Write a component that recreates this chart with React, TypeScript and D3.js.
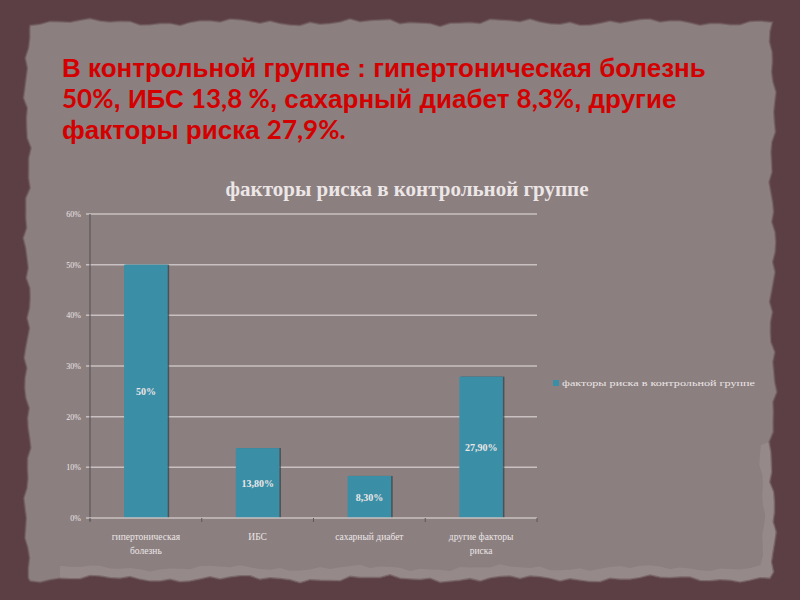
import React, { useEffect, useRef } from 'react';
import * as d3 from 'd3';

// данные диаграммы
const categories = [
  ['гипертоническая', 'болезнь'],
  ['ИБС'],
  ['сахарный диабет'],
  ['другие факторы', 'риска'],
];
const values = [0.5, 0.138, 0.083, 0.279];
const valueLabels = ['50%', '13,80%', '8,30%', '27,90%'];
const yTicks = [0, 0.1, 0.2, 0.3, 0.4, 0.5, 0.6];
const seriesName = 'факторы риска в контрольной группе';
const chartTitle = 'факторы риска в контрольной группе';

// заголовок слайда: [текст, цифровой шрифт]
const headingLines: [string, boolean][][] = [
  [['В контрольной группе : гипертоническая болезнь', false]],
  [['50%', true], [', ИБС ', false], ['13,8 %', true], [', сахарный диабет ', false], ['8,3%', true], [', другие', false]],
  [['факторы риска ', false], ['27,9%.', true]],
];

const W = 800;
const H = 600;
const colors = {
  frame: '#5b3f45',
  paper: '#8b7f80',
  paperLight: '#958989',
  heading: '#d40000',
  bar: '#3a8fa6',
  grid: '#c9c1c1',
  axis: '#5e5858',
  text: '#ece6e6',
};

const App: React.FC = () => {
  const svgRef = useRef<SVGSVGElement>(null);

  useEffect(() => {
    if (!svgRef.current) return;
    const svg = d3.select(svgRef.current);
    svg.selectAll('*').remove();

    // Фон: рамка и «рваная» бумага
    svg.append('rect').attr('width', W).attr('height', H).attr('fill', colors.frame);

    const jag = (i: number, k: number) =>
      Math.sin(i * 1.7 + k) * 1.4 + Math.sin(i * 0.45 + k * 2) * 2.2 + Math.sin(i * 3.1) * 0.7;
    const pts: [number, number][] = [];
    const step = 10;
    for (let x = 30, i = 0; x <= 770; x += step, i++) pts.push([x, 22 + jag(i, 1)]);
    for (let y = 22, i = 0; y <= 578; y += step, i++) pts.push([773 + jag(i, 2), y]);
    for (let x = 770, i = 0; x >= 30; x -= step, i++) pts.push([x, 579 + jag(i, 3)]);
    for (let y = 578, i = 0; y >= 22; y -= step, i++) pts.push([27 + jag(i, 4), y]);
    const paperPath = d3.line().curve(d3.curveLinearClosed)(pts);
    svg.append('path').attr('d', paperPath).attr('fill', colors.paper);

    // светлый слой у нижнего правого края (внутри бумаги)
    const lpts: [number, number][] = [];
    for (let x = 60, i = 0; x <= 755; x += 10, i++) lpts.push([x, 568 + jag(i, 5) * 0.9]);
    for (let y = 565, i = 0; y >= 440; y -= 10, i++) lpts.push([762 + jag(i, 6) * 0.9, y]);
    lpts.push([775, 440], [775, 585], [60, 585]);
    const clip = svg.append('clipPath').attr('id', 'paperClip');
    clip.append('path').attr('d', paperPath);
    svg.append('path')
      .attr('d', d3.line().curve(d3.curveLinearClosed)(lpts))
      .attr('fill', colors.paperLight)
      .attr('clip-path', 'url(#paperClip)');
    svg.append('path')
      .attr('d', paperPath)
      .attr('fill', 'none')
      .attr('stroke', '#6c5559')
      .attr('stroke-width', 2)
      .attr('opacity', 0.6);

    // Заголовок слайда
    const heading = svg.append('text')
      .attr('fill', colors.heading)
      .style('font-family', '"Liberation Sans", Arial, sans-serif')
      .style('font-weight', 'bold')
      .style('font-size', '26px');
    headingLines.forEach((line, li) => {
      line.forEach(([t, num], si) => {
        const ts = heading.append('tspan').text(t);
        if (si === 0) ts.attr('x', 62).attr('y', 77 + li * 31);
        if (num) ts.style('font-family', 'Lato, "Open Sans", sans-serif').style('font-size', '26px');
      });
    });

    // Диаграмма
    const m = { left: 90, right: 537, top: 214, bottom: 518 };

    svg.append('text')
      .attr('x', 407)
      .attr('y', 196)
      .attr('text-anchor', 'middle')
      .attr('fill', colors.text)
      .style('font-family', '"Liberation Serif", serif')
      .style('font-weight', 'bold')
      .style('font-size', '21px')
      .text(chartTitle);

    const x = d3.scaleBand<number>()
      .domain(d3.range(values.length))
      .range([m.left, m.right])
      .paddingInner(0.61)
      .paddingOuter(0.305);
    const y = d3.scaleLinear().domain([0, 0.6]).range([m.bottom, m.top]);

    const g = svg.append('g');

    // сетка
    g.selectAll('line.grid')
      .data(yTicks.slice(1))
      .join('line')
      .attr('x1', m.left - 4)
      .attr('x2', m.right)
      .attr('y1', (d) => y(d))
      .attr('y2', (d) => y(d))
      .attr('stroke', colors.grid)
      .attr('stroke-width', 1.5);

    // подписи оси Y
    g.selectAll('text.ytick')
      .data(yTicks)
      .join('text')
      .attr('x', m.left - 9)
      .attr('y', (d) => y(d) + 3)
      .attr('text-anchor', 'end')
      .attr('fill', colors.text)
      .style('font-family', '"Liberation Serif", serif')
      .style('font-size', '8px')
      .text((d) => d3.format('.0%')(d));

    // столбцы
    const bars = g.selectAll('g.bar').data(values).join('g');
    bars.append('rect')
      .attr('x', (_, i) => (x(i) as number) + 1.5)
      .attr('y', (d) => y(d))
      .attr('width', x.bandwidth())
      .attr('height', (d) => m.bottom - y(d))
      .attr('fill', '#2f3f44')
      .attr('opacity', 0.7);
    bars.append('rect')
      .attr('x', (_, i) => x(i) as number)
      .attr('y', (d) => y(d))
      .attr('width', x.bandwidth())
      .attr('height', (d) => m.bottom - y(d))
      .attr('fill', colors.bar);
    bars.append('text')
      .attr('x', (_, i) => (x(i) as number) + x.bandwidth() / 2)
      .attr('y', (d) => (y(d) + m.bottom) / 2 + 4)
      .attr('text-anchor', 'middle')
      .attr('fill', colors.text)
      .style('font-family', '"Liberation Serif", serif')
      .style('font-weight', 'bold')
      .style('font-size', '10px')
      .text((_, i) => valueLabels[i]);

    // оси
    g.append('line')
      .attr('x1', m.left).attr('x2', m.left)
      .attr('y1', m.top).attr('y2', m.bottom + 3)
      .attr('stroke', colors.axis)
      .attr('stroke-width', 1.2);
    g.append('line')
      .attr('x1', m.left - 4).attr('x2', m.right)
      .attr('y1', m.bottom).attr('y2', m.bottom)
      .attr('stroke', colors.grid)
      .attr('stroke-width', 1.5);
    const bandStep = x.step();
    g.selectAll('line.xtick')
      .data(d3.range(values.length + 1))
      .join('line')
      .attr('x1', (i) => m.left + i * bandStep)
      .attr('x2', (i) => m.left + i * bandStep)
      .attr('y1', m.bottom)
      .attr('y2', m.bottom + 4)
      .attr('stroke', colors.axis);

    // подписи категорий
    const xl = g.selectAll('text.xlab')
      .data(categories)
      .join('text')
      .attr('text-anchor', 'middle')
      .attr('fill', colors.text)
      .style('font-family', '"Liberation Serif", serif')
      .style('font-size', '9.5px');
    xl.each(function (lines, i) {
      const cx = (x(i) as number) + x.bandwidth() / 2;
      d3.select(this)
        .selectAll('tspan')
        .data(lines)
        .join('tspan')
        .attr('x', cx)
        .attr('y', (_, k) => 540 + k * 14)
        .text((t) => t);
    });

    // легенда
    svg.append('rect')
      .attr('x', 553).attr('y', 380)
      .attr('width', 6).attr('height', 6)
      .attr('fill', colors.bar);
    svg.append('text')
      .attr('x', 562)
      .attr('y', 386)
      .attr('fill', colors.text)
      .style('font-family', '"Liberation Serif", serif')
      .style('font-size', '9px')
      .attr('textLength', 193)
      .attr('lengthAdjust', 'spacingAndGlyphs')
      .text(seriesName);
  }, []);

  return (
    <svg
      ref={svgRef}
      width={W}
      height={H}
      style={{ position: 'fixed', left: 0, top: 0, display: 'block' }}
    />
  );
};

export default App;
